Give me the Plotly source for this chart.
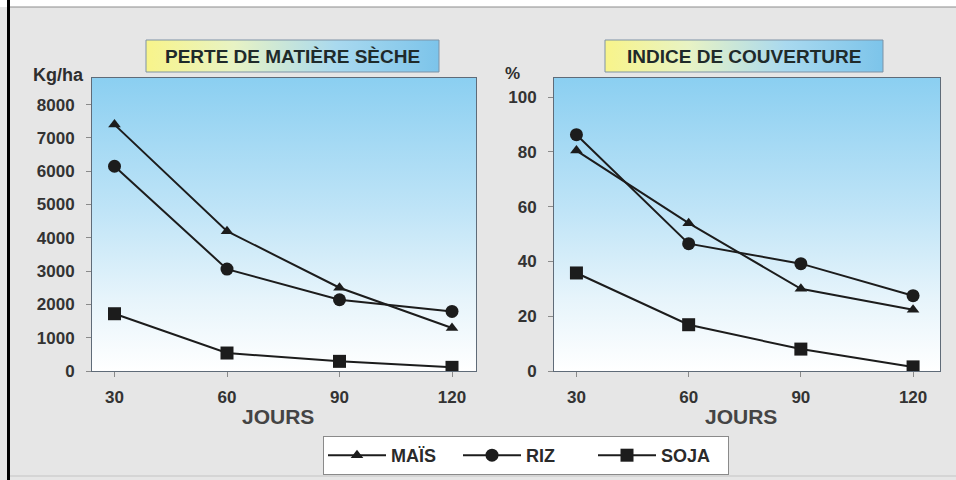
import base64
import plotly.graph_objects as go

# ---------------- data ----------------
jours = [30, 60, 90, 120]
series_names = ["MAÏS", "RIZ", "SOJA"]
perte_mais = [7400, 4200, 2500, 1290]
perte_riz = [6150, 3060, 2140, 1790]
perte_soja = [1720, 540, 290, 110]
couv_mais = [80.5, 54, 30, 22.4]
couv_riz = [86.3, 46.5, 39.2, 27.5]
couv_soja = [35.8, 16.9, 8, 1.5]
title_left = "PERTE DE MATIÈRE SÈCHE"
title_right = "INDICE DE COUVERTURE"
ytitle_left = "Kg/ha"
ytitle_right = "%"
xtitle = "JOURS"
x_ticks = [30, 60, 90, 120]
yticks_left = [0, 1000, 2000, 3000, 4000, 5000, 6000, 7000, 8000]
yticks_right = [0, 20, 40, 60, 80, 100]

W, H = 956, 480
FONT = "Liberation Sans, Arial, sans-serif"
LINE = "#1c1c1c"


def px(x):
    return x / W


def py(y):
    return 1 - y / H


def svg_uri(svg):
    return "data:image/svg+xml;base64," + base64.b64encode(svg.encode()).decode()


bg_svg = svg_uri(
    '<svg xmlns="http://www.w3.org/2000/svg" width="100" height="100" preserveAspectRatio="none">'
    '<defs><linearGradient id="g" x1="0" y1="0" x2="0" y2="1">'
    '<stop offset="0" stop-color="#8bcff1"/>'
    '<stop offset="0.45" stop-color="#bfe4f7"/>'
    '<stop offset="0.75" stop-color="#e6f4fb"/>'
    '<stop offset="1" stop-color="#ffffff"/>'
    '</linearGradient></defs><rect width="100" height="100" fill="url(#g)"/></svg>'
)
title_svg = svg_uri(
    '<svg xmlns="http://www.w3.org/2000/svg" width="100" height="100" preserveAspectRatio="none">'
    '<defs><linearGradient id="g" x1="0" y1="0" x2="1" y2="0">'
    '<stop offset="0" stop-color="#f8f48a"/>'
    '<stop offset="0.3" stop-color="#e8f3c4"/>'
    '<stop offset="0.65" stop-color="#a9d9ef"/>'
    '<stop offset="1" stop-color="#7cc4ea"/>'
    '</linearGradient></defs><rect width="100" height="100" fill="url(#g)"/></svg>'
)

fig = go.Figure()

markers = [
    dict(symbol="triangle-up", size=11),
    dict(symbol="circle", size=13),
    dict(symbol="square", size=13),
]

left_vals = [perte_mais, perte_riz, perte_soja]
right_vals = [couv_mais, couv_riz, couv_soja]

for i, name in enumerate(series_names):
    fig.add_trace(go.Scatter(
        x=jours, y=left_vals[i], name=name, mode="lines+markers",
        line=dict(color=LINE, width=2),
        marker=dict(color=LINE, **markers[i]),
        xaxis="x", yaxis="y", legendgroup=name, showlegend=True,
    ))
for i, name in enumerate(series_names):
    fig.add_trace(go.Scatter(
        x=jours, y=right_vals[i], name=name, mode="lines+markers",
        line=dict(color=LINE, width=2),
        marker=dict(color=LINE, **markers[i]),
        xaxis="x2", yaxis="y2", legendgroup=name, showlegend=False,
    ))

tickfont = dict(family=FONT, size=17, color="#333333", weight="bold")
axis_common = dict(
    showgrid=False, zeroline=False, showline=True, mirror=True,
    linecolor="#5f6b78", linewidth=1, ticks="outside", ticklen=5,
    tickcolor="#8a8a8a", tickfont=tickfont, fixedrange=True,
    automargin=False,
)

L = (92, 476)
R = (554, 940)
TOP, BOT = 78, 371

fig.update_layout(
    width=W, height=H,
    margin=dict(l=0, r=0, t=0, b=0, pad=0, autoexpand=False),
    paper_bgcolor="#e6e6e6",
    plot_bgcolor="rgba(0,0,0,0)",
    font=dict(family=FONT),
    xaxis=dict(domain=[px(L[0]), px(L[1])], range=[24, 126.4], tickvals=x_ticks,
               anchor="y", ticklabelstandoff=6, **axis_common),
    yaxis=dict(domain=[py(BOT), py(TOP)], range=[0, 8800], tickvals=yticks_left,
               anchor="x", ticklabelstandoff=8, **axis_common),
    xaxis2=dict(domain=[px(R[0]), px(R[1])], range=[24, 127.2], tickvals=x_ticks,
                anchor="y2", ticklabelstandoff=6, **axis_common),
    yaxis2=dict(domain=[py(BOT), py(TOP)], range=[0, 107], tickvals=yticks_right,
                anchor="x2", ticklabelstandoff=8, **axis_common),
    legend=dict(
        orientation="h", x=px(526), xanchor="center", y=py(455.5), yanchor="middle",
        bgcolor="#ffffff", bordercolor="#8a8a8a", borderwidth=1,
        font=dict(family=FONT, size=18, color="#2a2a2a", weight="bold"),
        entrywidth=62, entrywidthmode="pixels", itemwidth=58,
        tracegroupgap=0,
    ),
    showlegend=True,
)

images = []
for (x0, x1) in (L, R):
    images.append(dict(source=bg_svg, xref="paper", yref="paper",
                       x=px(x0), y=py(TOP), sizex=px(x1) - px(x0), sizey=py(TOP) - py(BOT),
                       xanchor="left", yanchor="top", sizing="stretch", layer="below"))
for (x0, x1) in ((146, 439), (605, 883)):
    images.append(dict(source=title_svg, xref="paper", yref="paper",
                       x=px(x0), y=py(40), sizex=px(x1) - px(x0), sizey=py(40) - py(72),
                       xanchor="left", yanchor="top", sizing="stretch", layer="below"))
fig.update_layout(images=images)

shapes = [
    # top white strip
    dict(type="rect", xref="paper", yref="paper", x0=0, x1=1, y0=py(7), y1=1,
         fillcolor="#ffffff", line=dict(width=0), layer="below"),
    dict(type="line", xref="paper", yref="paper", x0=px(9), x1=1, y0=py(7), y1=py(7),
         line=dict(color="#8c8c8c", width=1)),
    # left black border
    dict(type="line", xref="paper", yref="paper", x0=px(8.5), x1=px(8.5), y0=0, y1=1,
         line=dict(color="#000000", width=3)),
    # bottom faint line
    dict(type="line", xref="paper", yref="paper", x0=px(10), x1=1, y0=py(476), y1=py(476),
         line=dict(color="#c4c4c4", width=1)),
]
for (x0, x1) in ((146, 439), (605, 883)):
    shapes.append(dict(type="rect", xref="paper", yref="paper",
                       x0=px(x0), x1=px(x1), y0=py(72), y1=py(40),
                       line=dict(color="#7f93a6", width=1), fillcolor="rgba(0,0,0,0)"))
fig.update_layout(shapes=shapes)

annotations = [
    dict(text=title_left, x=px(292.5), y=py(56), xref="paper", yref="paper",
         showarrow=False, xanchor="center", yanchor="middle",
         font=dict(family=FONT, size=19, color="#1f2a2a", weight="bold")),
    dict(text=title_right, x=px(744), y=py(56), xref="paper", yref="paper",
         showarrow=False, xanchor="center", yanchor="middle",
         font=dict(family=FONT, size=19, color="#1f2a2a", weight="bold")),
    dict(text=ytitle_left, x=px(31), y=py(75), xref="paper", yref="paper",
         showarrow=False, xanchor="left", yanchor="middle",
         font=dict(family=FONT, size=18, color="#2e2e2e", weight="bold")),
    dict(text=ytitle_right, x=px(503), y=py(73), xref="paper", yref="paper",
         showarrow=False, xanchor="left", yanchor="middle",
         font=dict(family=FONT, size=17, color="#2e2e2e", weight="bold")),
    dict(text=xtitle, x=px(278), y=py(416), xref="paper", yref="paper",
         showarrow=False, xanchor="center", yanchor="middle",
         font=dict(family=FONT, size=21, color="#444444", weight="bold")),
    dict(text=xtitle, x=px(741), y=py(416), xref="paper", yref="paper",
         showarrow=False, xanchor="center", yanchor="middle",
         font=dict(family=FONT, size=21, color="#444444", weight="bold")),
]
fig.update_layout(annotations=annotations)

fig.write_html(
    "out.html",
    config={"displayModeBar": False},
    post_script="document.body.style.margin='0';document.body.style.overflow='hidden';",
)
